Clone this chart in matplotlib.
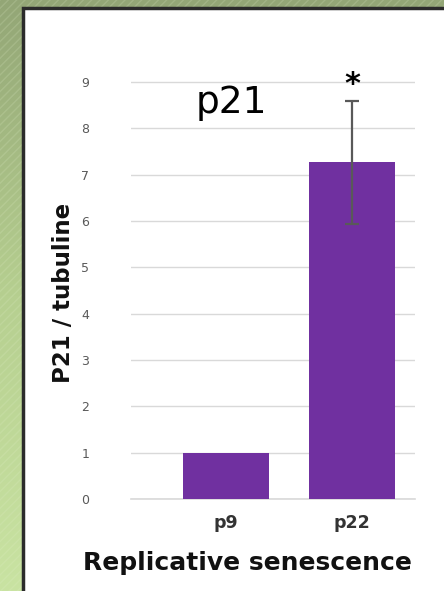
import numpy as np
import matplotlib.pyplot as plt
from matplotlib.patches import Rectangle
from matplotlib.colors import LinearSegmentedColormap

categories = ["p9", "p22"]
values = [1.0, 7.27]
errors = [0.0, 1.33]
y_ticks = [0, 1, 2, 3, 4, 5, 6, 7, 8, 9]

W, H = 444, 591
fig = plt.figure(figsize=(W / 100, H / 100), dpi=100)

# green slide background (gradient + faint diagonal hatch)
bg = fig.add_axes([0, 0, 1, 1])
bg.set_axis_off()
grad = np.linspace(0, 1, 256).reshape(-1, 1)
cmap = LinearSegmentedColormap.from_list("g", ["#c9e3a2", "#b6cf90", "#93a676"])
bg.imshow(grad, aspect="auto", cmap=cmap, extent=[0, 1, 0, 1], origin="lower")
bg.add_patch(Rectangle((0, 0), 1, 1, facecolor="none", edgecolor="#e4f2cc",
                       hatch="////", linewidth=0, alpha=0.18))
# white panel with dark border
bg.add_patch(Rectangle((23 / W, -0.01), 1.0, 1 - 8 / H + 0.01, facecolor="white",
                       edgecolor="#2b2b2b", linewidth=2.5))
bg.set_xlim(0, 1)
bg.set_ylim(0, 1)

ax = fig.add_axes([131 / W, 1 - 499 / H, 284 / W, (499 - 58.9) / H])
x = np.arange(len(categories))
ax.bar(x, values, width=0.68, color="#7030a0", zorder=3)
ax.errorbar(x[1], values[1], yerr=errors[1], fmt="none", ecolor="#595959",
            elinewidth=1.6, capsize=5, capthick=1.6, zorder=4)

ax.set_xlim(-0.754, 1.5)
ax.set_ylim(0, 9.5)
ax.set_yticks(y_ticks)
ax.set_yticklabels([str(t) for t in y_ticks], color="#595959", fontsize=9)
ax.set_xticks(x)
ax.set_xticklabels(categories, fontsize=12.5, fontweight="bold", color="#333333")
ax.tick_params(axis="both", length=0, pad=30)
ax.tick_params(axis="x", pad=11)
ax.grid(axis="y", color="#d9d9d9", linewidth=1, zorder=0)
for s in ax.spines.values():
    s.set_visible(False)
ax.axhline(0, color="#d9d9d9", linewidth=1.2, zorder=1, clip_on=False)

ax.text(0.04, 8.55, "p21", fontsize=27, ha="center", va="center")
ax.text(1, 8.95, "*", fontsize=22, fontweight="bold", ha="center", va="center")

fig.text(63 / W, 1 - 293 / H, "P21 / tubuline", rotation=90, fontsize=16.5,
         fontweight="bold", ha="center", va="center", color="#111111")
fig.text(247 / W, 1 - 563 / H, "Replicative senescence", fontsize=18,
         fontweight="bold", ha="center", va="center", color="#111111")

fig.savefig("out.png", dpi=100)
